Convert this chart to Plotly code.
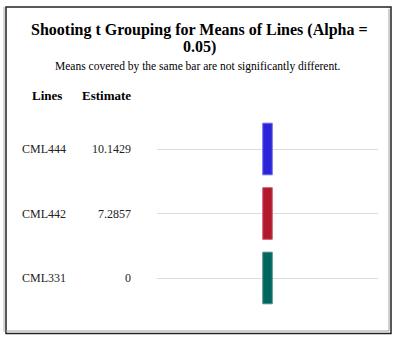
import plotly.graph_objects as go

# Means table
lines = ["CML444", "CML442", "CML331"]
estimates = [10.1429, 7.2857, 0]
estimate_labels = ["10.1429", "7.2857", "0"]
bar_colors = ["#2A25D9", "#B2182B", "#01665E"]
bar_edges = ["#6E6AF0", "#C9586A", "#4A8F88"]

W, H = 398, 339
L, R, T, B = 157, 20, 110, 19
PW, PH = W - L - R, H - T - B


def px(x):
    return (x - L) / PW


def py(y):
    return (H - B - y) / PH


n = len(lines)
rows = list(range(n - 1, -1, -1))  # first line on top

fig = go.Figure()
for i, (name, c, e) in enumerate(zip(lines, bar_colors, bar_edges)):
    fig.add_trace(go.Bar(
        x=[0.5], y=[0.8], base=[rows[i] - 0.4], width=[0.043],
        marker=dict(color=c, line=dict(color=e, width=1)),
        showlegend=False, hoverinfo="skip",
    ))

serif = "Liberation Serif, Times New Roman, serif"


def note(text, x, y, size, xanchor="center", yref="paper", color="black"):
    return dict(text=text, x=x, y=y, xref="paper", yref=yref,
                xanchor=xanchor, yanchor="middle", showarrow=False,
                font=dict(family=serif, size=size, color=color))


ann = [
    note("<b>Shooting t Grouping for Means of Lines (Alpha =</b>", px(199), py(30), 16),
    note("<b>0.05)</b>", px(199), py(47), 16),
    note("Means covered by the same bar are not significantly different.", px(197), py(66), 11.5),
    note("<b>Lines</b>", px(47), py(95), 13),
    note("<b>Estimate</b>", px(106), py(95), 13),
]
for i, (name, lab) in enumerate(zip(lines, estimate_labels)):
    ann.append(note(name, px(20), rows[i], 12, xanchor="left", yref="y", color="#222"))
    ann.append(note(lab, px(133), rows[i], 12, xanchor="right", yref="y", color="#222"))

shapes = [
    # outer frame
    dict(type="line", xref="paper", yref="paper", x0=px(4), x1=px(4), y0=py(7), y1=py(332),
         line=dict(color="#b0b0b0", width=1)),
    dict(type="rect", xref="paper", yref="paper", x0=px(6), x1=px(391), y0=py(7), y1=py(333.5),
         line=dict(color="#222", width=1.5)),
    dict(type="line", xref="paper", yref="paper", x0=px(389), x1=px(389), y0=py(9), y1=py(331),
         line=dict(color="#a0a0a0", width=1)),
    dict(type="line", xref="paper", yref="paper", x0=px(6), x1=px(389), y0=py(331), y1=py(331),
         line=dict(color="#a0a0a0", width=1)),
]

fig.update_layout(
    width=W, height=H,
    margin=dict(l=L, r=R, t=T, b=B),
    paper_bgcolor="white", plot_bgcolor="white",
    annotations=ann, shapes=shapes,
    barmode="overlay",
    xaxis=dict(range=[0, 1], showgrid=False, zeroline=False, showticklabels=False,
               showline=False, fixedrange=True),
    yaxis=dict(range=[-(H - B - 278) / 64.5, 2 + (149 - T) / 64.5],
               tickvals=rows, showticklabels=False, showgrid=True,
               gridcolor="#dcdcdc", gridwidth=1, zeroline=False, showline=False),
)

fig.write_html("out.html")
